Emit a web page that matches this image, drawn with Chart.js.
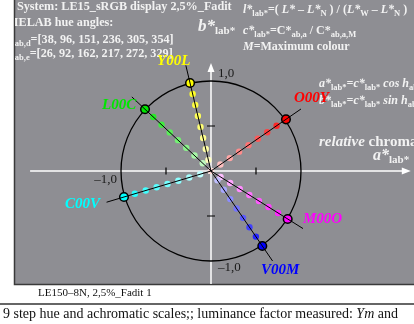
<!DOCTYPE html>
<html>
<head>
<meta charset="utf-8">
<script src="https://cdn.jsdelivr.net/npm/chart.js@4.4.1/dist/chart.umd.min.js"></script>
<style>
  html, body { margin: 0; padding: 0; background: #fff; }
  canvas { display: block; }
</style>
</head>
<body>
<canvas id="chart" width="414" height="324"></canvas>
<script>
// Hue markers (relative chroma a*lab*, b*lab*)
const hueNames = ['O00Y', 'Y00L', 'L00C', 'C00V', 'V00M', 'M00O'];
const hueA = [0.833, -0.233, -0.733, -0.967, 0.570, 0.852];
const hueB = [0.574, 0.978, 0.686, -0.289, -0.833, -0.533];
const hueColors = ['#ff0000', '#ffff00', '#00e600', '#00ffff', '#0000ff', '#ff00ff'];
const hueRGB = [[255, 0, 0], [255, 255, 0], [0, 230, 0], [0, 255, 255], [0, 0, 255], [255, 0, 255]];
// 9 step scale: relative chroma of each step (marker is the last step, 1.0)
const chromaSteps = [0, 0.125, 0.25, 0.375, 0.5, 0.625, 0.75, 0.875];
const lineExtent = 1.2;

// axis ticks and tick labels
const tickValues = [-0.5, 0.5];
const xTickLabels = [{ v: -1, t: '\u20131,0' }];
const yTickLabels = [{ v: 1, t: '1,0' }, { v: -1, t: '\u20131,0' }];

const GRAY = 'rgb(142,142,147)';
const SERIF = '"Liberation Serif", "Times New Roman", serif';

function mixWhite(rgb, t) {
  const c = rgb.map(v => Math.round(255 * (1 - t) + v * t));
  return `rgb(${c[0]},${c[1]},${c[2]})`;
}

const datasets = [];

// black hue lines from the centre through each marker
hueNames.forEach((name, i) => {
  datasets.push({
    data: [{ x: 0, y: 0 }, { x: hueA[i] * lineExtent, y: hueB[i] * lineExtent }],
    showLine: true,
    borderColor: '#000',
    borderWidth: 1,
    pointRadius: 0
  });
});

// step dots
hueNames.forEach((name, i) => {
  datasets.push({
    data: chromaSteps.map(s => ({ x: hueA[i] * s, y: hueB[i] * s })),
    showLine: false,
    pointRadius: 3.2,
    borderWidth: 0,
    backgroundColor: chromaSteps.map(s => mixWhite(hueRGB[i], 0.15 + 0.8 * s))
  });
});

// markers
datasets.push({
  data: hueA.map((a, i) => ({ x: a, y: hueB[i] })),
  pointStyle: 'circle',
  pointRadius: 4.3,
  borderWidth: 1.5,
  borderColor: '#000',
  backgroundColor: hueColors
});
datasets.push({
  data: hueA.map((a, i) => ({ x: a, y: hueB[i] })),
  pointStyle: 'cross',
  pointRadius: 3.5,
  borderWidth: 1,
  borderColor: '#000'
});

function rich(ctx, x, y, parts) {
  for (const p of parts) {
    ctx.font = p.f;
    ctx.fillText(p.t, x, y + (p.dy || 0));
    x += ctx.measureText(p.t).width;
  }
}

const backdrop = {
  id: 'backdrop',
  beforeDraw(chart) {
    const { ctx, chartArea: ca, scales: { x, y } } = chart;
    ctx.save();
    ctx.fillStyle = '#fff';
    ctx.fillRect(0, 0, chart.width, chart.height);
    ctx.fillStyle = GRAY;
    ctx.fillRect(ca.left, ca.top, ca.right - ca.left, ca.bottom - ca.top);
    // panel border
    ctx.strokeStyle = '#3a3a3a';
    ctx.lineWidth = 1.5;
    ctx.beginPath();
    ctx.moveTo(ca.left - 0.5, ca.top);
    ctx.lineTo(ca.left - 0.5, ca.bottom + 0.5);
    ctx.lineTo(ca.right, ca.bottom + 0.5);
    ctx.stroke();

    const cx = x.getPixelForValue(0), cy = y.getPixelForValue(0);
    // white axes with arrows
    ctx.strokeStyle = '#fff';
    ctx.fillStyle = '#fff';
    ctx.lineWidth = 1.5;
    const xl = x.getPixelForValue(-2.01), xr = x.getPixelForValue(2.22);
    const yt = y.getPixelForValue(1.2), yb = ca.bottom;
    ctx.beginPath();
    ctx.moveTo(xl, cy); ctx.lineTo(xr - 6, cy);
    ctx.moveTo(cx, yb); ctx.lineTo(cx, yt + 6);
    ctx.stroke();
    ctx.beginPath();
    ctx.moveTo(xr, cy); ctx.lineTo(xr - 9, cy - 3.5); ctx.lineTo(xr - 9, cy + 3.5); ctx.closePath();
    ctx.moveTo(cx, yt); ctx.lineTo(cx - 3.5, yt + 9); ctx.lineTo(cx + 3.5, yt + 9); ctx.closePath();
    ctx.fill();

    // unit circle
    const r = x.getPixelForValue(1) - cx;
    ctx.strokeStyle = '#000';
    ctx.lineWidth = 1.3;
    ctx.beginPath();
    ctx.arc(cx, cy, r, 0, Math.PI * 2);
    ctx.stroke();

    // ticks
    ctx.lineWidth = 1.2;
    ctx.beginPath();
    tickValues.forEach(v => {
      const px = x.getPixelForValue(v);
      ctx.moveTo(px, cy - 3.5); ctx.lineTo(px, cy + 3.5);
      const py = y.getPixelForValue(v);
      ctx.moveTo(cx - 4, py); ctx.lineTo(cx + 4, py);
    });
    ctx.stroke();

    // tick labels
    ctx.fillStyle = '#1a1a1a';
    ctx.font = '13px ' + SERIF;
    xTickLabels.forEach(l => {
      ctx.textAlign = 'right';
      ctx.fillText(l.t, x.getPixelForValue(l.v) - 4, cy + 12);
    });
    ctx.textAlign = 'left';
    yTickLabels.forEach(l => {
      ctx.fillText(l.t, cx + 7, y.getPixelForValue(l.v) - 4 + (l.v < 0 ? 14 : 0));
    });
    ctx.restore();
  },
  afterDraw(chart) {
    const { ctx, chartArea: ca } = chart;
    ctx.save();
    ctx.beginPath();
    ctx.rect(ca.left, ca.top, ca.right - ca.left, ca.bottom - ca.top);
    ctx.clip();
    ctx.fillStyle = '#f2f2f2';
    ctx.textAlign = 'left';
    const b12 = 'bold 12.2px ' + SERIF;
    const bi12 = 'italic bold 12.2px ' + SERIF;
    const s9 = 'bold 8.5px ' + SERIF;
    ctx.font = b12;
    ctx.fillText('System: LE15_sRGB display 2,5%_Fadit', 17, 10);
    ctx.fillText('CIELAB hue angles:', 5, 26);
    rich(ctx, 8, 43, [{ t: 'h', f: bi12 }, { t: 'ab,d', f: s9, dy: 3 }, { t: '=[38, 96, 151, 236, 305, 354]', f: b12 }]);
    rich(ctx, 8, 57, [{ t: 'h', f: bi12 }, { t: 'ab,e', f: s9, dy: 3 }, { t: '=[26, 92, 162, 217, 272, 329]', f: b12 }]);

    rich(ctx, 198, 31, [{ t: 'b*', f: 'italic bold 17px ' + SERIF }, { t: 'lab*', f: 'bold 11px ' + SERIF, dy: 3 }]);

    const i12 = 'italic bold 12px ' + SERIF;
    const r12 = 'bold 12px ' + SERIF;
    const s8 = 'bold 8.5px ' + SERIF;
    rich(ctx, 243, 13, [
      { t: 'l*', f: i12 }, { t: 'lab*', f: s8, dy: 3 }, { t: '=( ', f: r12 },
      { t: 'L*', f: i12 }, { t: ' \u2013 ', f: r12 }, { t: 'L*', f: i12 }, { t: 'N', f: s8, dy: 3 },
      { t: ' ) / (', f: r12 }, { t: 'L*', f: i12 }, { t: 'W', f: s8, dy: 3 }, { t: ' \u2013 ', f: r12 },
      { t: 'L*', f: i12 }, { t: 'N', f: s8, dy: 3 }, { t: ' )', f: r12 }
    ]);
    rich(ctx, 243, 34, [
      { t: 'c*', f: i12 }, { t: 'lab*', f: s8, dy: 3 }, { t: '=C*', f: r12 }, { t: 'ab,a', f: s8, dy: 3 },
      { t: ' / C*', f: r12 }, { t: 'ab,a,M', f: s8, dy: 3 }
    ]);
    rich(ctx, 243, 50, [{ t: 'M', f: i12 }, { t: '=Maximum colour', f: r12 }]);
    rich(ctx, 319, 87, [
      { t: 'a*', f: i12 }, { t: 'lab*', f: s8, dy: 3 }, { t: '=c*', f: i12 }, { t: 'lab*', f: s8, dy: 3 },
      { t: ' cos h', f: i12 }, { t: 'ab', f: s8, dy: 3 }
    ]);
    rich(ctx, 319, 104, [
      { t: 'b*', f: i12 }, { t: 'lab*', f: s8, dy: 3 }, { t: '=c*', f: i12 }, { t: 'lab*', f: s8, dy: 3 },
      { t: ' sin h', f: i12 }, { t: 'ab', f: s8, dy: 3 }
    ]);
    rich(ctx, 319, 146, [{ t: 'relative', f: 'italic bold 15px ' + SERIF }, { t: ' chroma', f: 'bold 15px ' + SERIF }]);
    rich(ctx, 373, 160, [{ t: 'a*', f: 'italic bold 16px ' + SERIF }, { t: 'lab*', f: 'bold 11px ' + SERIF, dy: 3 }]);

    // hue labels
    const labelPos = [[294, 102], [157, 65], [102, 109], [65, 208], [261, 274], [303, 223]];
    ctx.font = 'italic bold 15px ' + SERIF;
    hueNames.forEach((n, i) => {
      ctx.fillStyle = hueColors[i];
      ctx.fillText(n, labelPos[i][0], labelPos[i][1]);
    });
    ctx.restore();

    // caption area
    ctx.save();
    ctx.fillStyle = '#111';
    ctx.font = '11px ' + SERIF;
    ctx.fillText('LE150\u20138N, 2,5%_Fadit 1', 38, 296);
    ctx.strokeStyle = '#333';
    ctx.lineWidth = 1.5;
    ctx.beginPath();
    ctx.moveTo(0, 304); ctx.lineTo(414, 304);
    ctx.stroke();
    rich(ctx, 3, 318, [
      { t: '9 step hue and achromatic scales;; luminance factor measured: ', f: '14px ' + SERIF },
      { t: 'Ym', f: 'italic 14px ' + SERIF }, { t: ' and', f: '14px ' + SERIF }
    ]);
    ctx.restore();
  }
};

new Chart(document.getElementById('chart'), {
  type: 'scatter',
  data: { datasets },
  options: {
    responsive: false,
    animation: false,
    devicePixelRatio: 1,
    layout: { autoPadding: false, padding: { left: 15, right: 0, top: 0, bottom: 40 } },
    scales: {
      x: { type: 'linear', display: false, min: -2.1778, max: 2.2556 },
      y: { type: 'linear', display: false, min: -1.2556, max: 1.9 }
    },
    plugins: { legend: { display: false }, tooltip: { enabled: false } },
    elements: { line: { tension: 0 } }
  },
  plugins: [backdrop]
});
</script>
</body>
</html>
